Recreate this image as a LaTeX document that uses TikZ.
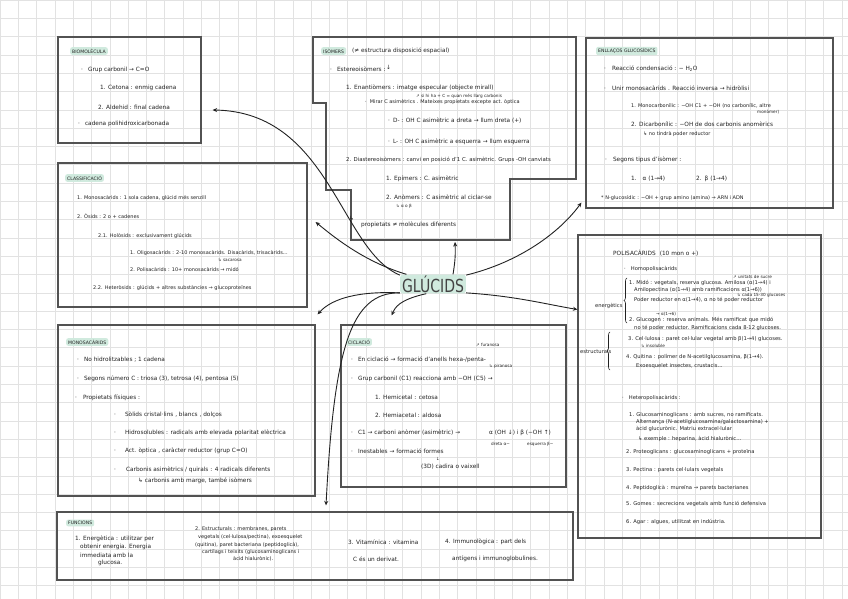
\documentclass[tikz,border=0pt]{standalone}
\usepackage{fontspec}
\setmainfont{DejaVu Sans}
\usepackage{graphicx}
\usetikzlibrary{arrows.meta, decorations.pathreplacing, positioning}
\definecolor{ink}{RGB}{34, 34, 34}
\definecolor{frame}{RGB}{82, 82, 82}
\definecolor{mint}{RGB}{208, 234, 222}
\definecolor{gridline}{RGB}{226, 226, 226}
\tikzset{
    panel/.style={rectangle, draw=frame, line width=1.2pt, inner sep=0pt},
    ttl/.style={anchor=west, fill=mint, rounded corners=2pt, inner xsep=2pt, inner ysep=1.6pt, text=ink, font=\fontsize{4.6}{5}\selectfont},
    txt/.style={anchor=west, inner sep=0pt, text=ink, font=\fontsize{5.8}{6.5}\selectfont},
    txs/.style={txt, font=\fontsize{5}{6}\selectfont},
    txp/.style={txt, font=\fontsize{5.2}{6}\selectfont},
    note/.style={txt, font=\fontsize{4.2}{5}\selectfont},
    bigtitle/.style={fill=mint, rounded corners=3pt, inner xsep=2pt, inner ysep=1pt, text=ink!85, font=\fontsize{18}{18}\selectfont},
    conn/.style={draw=ink, line width=0.9pt, -{Stealth[length=4.5pt,width=4pt]}},
    bracket/.style={draw=ink, line width=0.6pt, decorate, decoration={brace, amplitude=3pt}}
}

\begin{document}
\begin{tikzpicture}[x=1pt, y=-1pt]
    \useasboundingbox (0,0) rectangle (848,599);
    % Squared paper
    \fill[white] (0,0) rectangle (848,599);
    \foreach \gx in {0,18.3,...,848} \draw[gridline, line width=0.5pt] (\gx,0) -- (\gx,599);
    \foreach \gy in {0,18.3,...,599} \draw[gridline, line width=0.5pt] (0,\gy) -- (848,\gy);

    % Boxes
    \node[panel, minimum width=143, minimum height=106] (bio) at (129.5,90) {};
    \node[panel, minimum width=249, minimum height=144] (cls) at (182.5,235) {};
    \node[panel, minimum width=257, minimum height=171] (mono) at (186.5,410.5) {};
    \node[panel, minimum width=225, minimum height=162] (cic) at (453.5,406) {};
    \node[panel, minimum width=516, minimum height=68] (fun) at (315,546) {};
    \node[panel, minimum width=247, minimum height=170] (enl) at (709.5,123) {};
    \node[panel, minimum width=243, minimum height=303] (poli) at (699.5,386.5) {};
    \draw[frame, line width=1.2pt] (313,37) -- (576,37) -- (576,179) -- (510,179) -- (510,240)
        -- (351,240) -- (351,190) -- (326,190) -- (326,103) -- (313,103) -- cycle;
    \coordinate (isob) at (455,242);

    % Centre
    \node[bigtitle] (glucids) at (433,284) {\scalebox{0.78}[1]{GLÚCIDS}};

    % Biomolecula
    \node[ttl] (bioT) at (70,51) {BIOMOLÈCULA};
    \node[txt] (bio1) at (81,70) {·\hspace{5pt}Grup carbonil → C=O};
    \node[txt] (bio2) at (100,88) {1. Cetona : enmig cadena};
    \node[txt] (bio3) at (98,107) {2. Aldehid : final cadena};
    \node[txt] (bio4) at (78,124) {·\hspace{5pt}cadena polihidroxicarbonada};

    % Classificacio
    \node[ttl] (clsT) at (65,178) {CLASSIFICACIÓ};
    \node[txs] (cls1) at (77,198) {1. Monosacàrids : 1 sola cadena, glúcid més senzill};
    \node[txs] (cls2) at (77,216) {2. Òsids : 2 o + cadenes};
    \node[txs] (cls3) at (98,236) {2.1. Holòsids : exclusivament glúcids};
    \node[txs] (cls4) at (130,253) {1. Oligosacàrids : 2-10 monosacàrids. Disacàrids, trisacàrids...};
    \node[note] (cls5) at (218,260) {↳ sacarosa};
    \node[txs] (cls6) at (130,270) {2. Polisacàrids : 10+ monosacàrids → midó};
    \node[txs] (cls7) at (93,288) {2.2. Heteròsids : glúcids + altres substàncies → glucoproteïnes};

    % Monosacarids
    \node[ttl] (monoT) at (66,342) {MONOSACÀRIDS};
    \node[txt] (mono1) at (77,360) {·\hspace{5pt}No hidrolitzables ; 1 cadena};
    \node[txt] (mono2) at (77,379) {·\hspace{5pt}Segons número C : triosa (3), tetrosa (4), pentosa (5)};
    \node[txt] (mono3) at (75,398) {·\hspace{6pt}Propietats físiques :};
    \node[txt] (mono4) at (114,415) {·\hspace{9pt}Sòlids cristal·lins , blancs , dolços};
    \node[txt] (mono5) at (114,433) {·\hspace{9pt}Hidrosolubles : radicals amb elevada polaritat elèctrica};
    \node[txt] (mono6) at (114,451) {·\hspace{9pt}Act. òptica , caràcter reductor (grup C=O)};
    \node[txt] (mono7) at (114,470) {·\hspace{10pt}Carbonis asimètrics / quirals : 4 radicals diferents};
    \node[txt] (mono8) at (138,481) {↳ carbonis amb marge, també isòmers};

    % Isomers
    \node[ttl] (isoT) at (321,51) {ISÒMERS};
    \node[txt] (iso1) at (352,51) {(≠ estructura disposició espacial)};
    \node[txt] (iso2) at (330,69) {·\hspace{5pt}Estereoisòmers :};
    \node[txt] (iso3) at (386,67) {↓};
    \node[txt] (iso4) at (346,88) {1. Enantiòmers : imatge especular (objecte mirall)};
    \node[note] (iso5) at (416,96) {↗ si hi ha + C = quan més llarg carbonis};
    \node[txs] (iso6) at (365,102) {·\hspace{3pt}Mirar C asimètrics . Mateixes propietats excepte act. òptica};
    \node[txt] (iso7) at (388,121) {·\hspace{3pt}D- : OH C asimètric a dreta → llum dreta (+)};
    \node[txt] (iso8) at (388,142) {·\hspace{3pt}L- : OH C asimètric a esquerra → llum esquerra};
    \node[txt, font=\fontsize{5.4}{6}\selectfont] (iso9) at (346,160) {2. Diastereoisòmers : canvi en posició d'1 C. asimètric. Grups -OH canviats};
    \node[txt] (iso10) at (386,179) {1. Epímers : C. asimètric};
    \node[txt] (iso11) at (386,197) {2. Anòmers : C asimètric al ciclar-se};
    \node[note] (iso12) at (396,206) {↳ α o β};
    \node[txt] (iso13) at (349,218) {↳};
    \node[txt] (iso14) at (361,225) {propietats ≠ molècules diferents};

    % Enllacos glucosidics
    \node[ttl] (enlT) at (596,51) {ENLLAÇOS GLUCOSÍDICS};
    \node[txt] (enl1) at (604,69) {·\hspace{6pt}Reacció condensació : − H\textsubscript{2}O};
    \node[txt] (enl2) at (604,88) {·\hspace{6pt}Unir monosacàrids . Reacció inversa → hidròlisi};
    \node[txs] (enl3) at (631,106) {1. Monocarbonílic : −OH C1 + −OH (no carbonílic, altre};
    \node[note] (enl4) at (757,112) {monòmer)};
    \node[txt] (enl5) at (631,124) {2. Dicarbonílic : −OH de dos carbonis anomèrics};
    \node[txs] (enl6) at (643,134) {↳ no tindrà poder reductor};
    \node[txt] (enl7) at (605,160) {·\hspace{6pt}Segons tipus d'isòmer :};
    \node[txt] (enl8) at (631,179) {1.\hspace{6pt}α (1→4)};
    \node[txt] (enl9) at (696,179) {2.\hspace{3pt}β (1→4)};
    \node[txs] (enl10) at (601,198) {* N-glucosídic : −OH + grup amino (amina) → ARN i ADN};

    % Polisacarids
    \node[txt] (poliT) at (613,253) {POLISACÀRIDS\hspace{4pt}(10 mon o +)};
    \node[txp] (poli1) at (624,269) {·\hspace{5pt}Homopolisacàrids};
    \node[note] (poli2) at (733,277) {↗ unitats de sucre};
    \node[txp] (poli3) at (629,283) {1. Midó : vegetals, reserva glucosa. Amilosa (α(1→4) i};
    \node[txp] (poli4) at (634,290) {Amilopectina (α(1→4) amb ramificacions α(1→6))};
    \node[note] (poli5) at (737,295) {↳ cada 15-30 glucoses};
    \node[txp] (poli6) at (634,300) {Poder reductor en α(1→4), α no té poder reductor};
    \node[txp] (poli7) at (595,306) {energètics};
    \node[note] (poli8) at (656,314) {→ α(1→6)};
    \node[txp] (poli9) at (629,320) {2. Glucogen : reserva animals. Més ramificat que midó};
    \node[txp] (poli10) at (634,328) {no té poder reductor. Ramificacions cada 8-12 glucoses.};
    \node[txp] (poli11) at (580,352) {estructurals};
    \node[txp] (poli12) at (628,339) {3. Cel·lulosa : paret cel·lular vegetal amb β(1→4) glucoses.};
    \node[note] (poli13) at (641,346) {↳ insoluble};
    \node[txp] (poli14) at (626,357) {4. Quitina : polímer de N-acetilglucosamina, β(1→4).};
    \node[txp] (poli15) at (636,366) {Exoesquelet insectes, crustacis...};
    \node[txp] (poli16) at (622,398) {·\hspace{5pt}Heteropolisacàrids :};
    \node[txp] (poli17) at (629,415) {1. Glucosaminoglicans : amb sucres, no ramificats.};
    \node[txp] (poli18) at (636,422) {Alternança (N-acetilglucosamina/galactosamina) +};
    \node[txp] (poli19) at (636,429) {àcid glucurònic. Matriu extracel·lular};
    \node[txp] (poli20) at (638,439) {↳ exemple : heparina, àcid hialurònic...};
    \node[txp] (poli21) at (626,452) {2. Proteoglicans : glucosaminoglicans + proteïna};
    \node[txp] (poli22) at (626,470) {3. Pectina : parets cel·lulars vegetals};
    \node[txp] (poli23) at (626,488) {4. Peptidoglicà : mureïna → parets bacterianes};
    \node[txp] (poli24) at (626,504) {5. Gomes : secrecions vegetals amb funció defensiva};
    \node[txp] (poli25) at (626,522) {6. Agar : algues, utilitzat en indústria.};
    \draw[bracket] (627,323) -- (627,278);
    \draw[bracket] (610,370) -- (610,332);

    % Ciclacio
    \node[ttl] (cicT) at (346,342) {CICLACIÓ};
    \node[txt] (cic1) at (351,360) {·\hspace{5pt}En ciclació → formació d'anells hexa-/penta-};
    \node[note] (cic2) at (476,345) {↗ furanosa};
    \node[note] (cic3) at (489,366) {↳ piranosa};
    \node[txt] (cic4) at (351,379) {·\hspace{5pt}Grup carbonil (C1) reacciona amb −OH (C5) →};
    \node[txt] (cic5) at (375,397) {1. Hemicetal : cetosa};
    \node[txt] (cic6) at (375,415) {2. Hemiacetal : aldosa};
    \node[txt] (cic7) at (351,433) {·\hspace{5pt}C1 → carboni anòmer (asimètric) →};
    \node[txt] (cic8) at (489,433) {α (OH ↓) i β (−OH ↑)};
    \node[note] (cic9) at (491,444) {dreta α−};
    \node[note] (cic10) at (527,444) {esquerra β−};
    \node[txt] (cic11) at (351,451) {·\hspace{5pt}Inestables → formació formes};
    \node[note] (cic12) at (436,459) {↓};
    \node[txt] (cic13) at (421,467) {(3D) cadira o vaixell};

    % Funcions
    \node[ttl] (funT) at (66,523) {FUNCIONS};
    \node[txt] (fun1) at (75,539) {1. Energètica : utilitzar per};
    \node[txt] (fun2) at (80,547) {obtenir energia. Energia};
    \node[txt] (fun3) at (80,555) {immediata amb la};
    \node[txt] (fun4) at (98,563) {glucosa.};
    \node[txs] (fun5) at (195,529) {2. Estructurals : membranes, parets};
    \node[txs] (fun6) at (198,537) {vegetals (cel·lulosa/pectina), exoesquelet};
    \node[txs] (fun7) at (195,545) {(quitina), paret bacteriana (peptidoglicà),};
    \node[txs] (fun8) at (202,552) {cartílags i teixits (glucosaminoglicans i};
    \node[txs] (fun9) at (233,559) {àcid hialurònic).};
    \node[txt] (fun10) at (348,542) {3. Vitamínica : vitamina};
    \node[txt] (fun11) at (353,559) {C és un derivat.};
    \node[txt] (fun12) at (445,542) {4. Immunològica : part dels};
    \node[txt] (fun13) at (452,559) {antígens i immunoglobulines.};

    % Arrows
    \draw[conn] (glucids.165) .. controls (340,250) and (330,112) .. ([xshift=11pt, yshift=-20pt]bio.east);
    \draw[conn] (glucids.160) .. controls (365,262) and (335,238) .. ([xshift=8pt, yshift=13pt]cls.east);
    \draw[conn] ([xshift=20pt]glucids.north) to[bend right=6] (isob);
    \draw[conn] (glucids.15) .. controls (520,262) and (560,232) .. ([xshift=-4pt, yshift=6pt]enl.south west);
    \draw[conn] (glucids.-15) .. controls (515,296) and (545,304) .. ([yshift=77pt]poli.west);
    \draw[conn] (glucids.195) .. controls (360,291) and (332,298) .. ([xshift=2pt, yshift=10pt]mono.north east);
    \draw[conn] (glucids.235) .. controls (398,300) and (395,308) .. ([xshift=-62pt, yshift=9pt]cic.north);
    \draw[conn] (glucids.195) .. controls (350,292) and (334,350) .. ([xshift=11pt, yshift=6pt]fun.north);
\end{tikzpicture}
\end{document}
